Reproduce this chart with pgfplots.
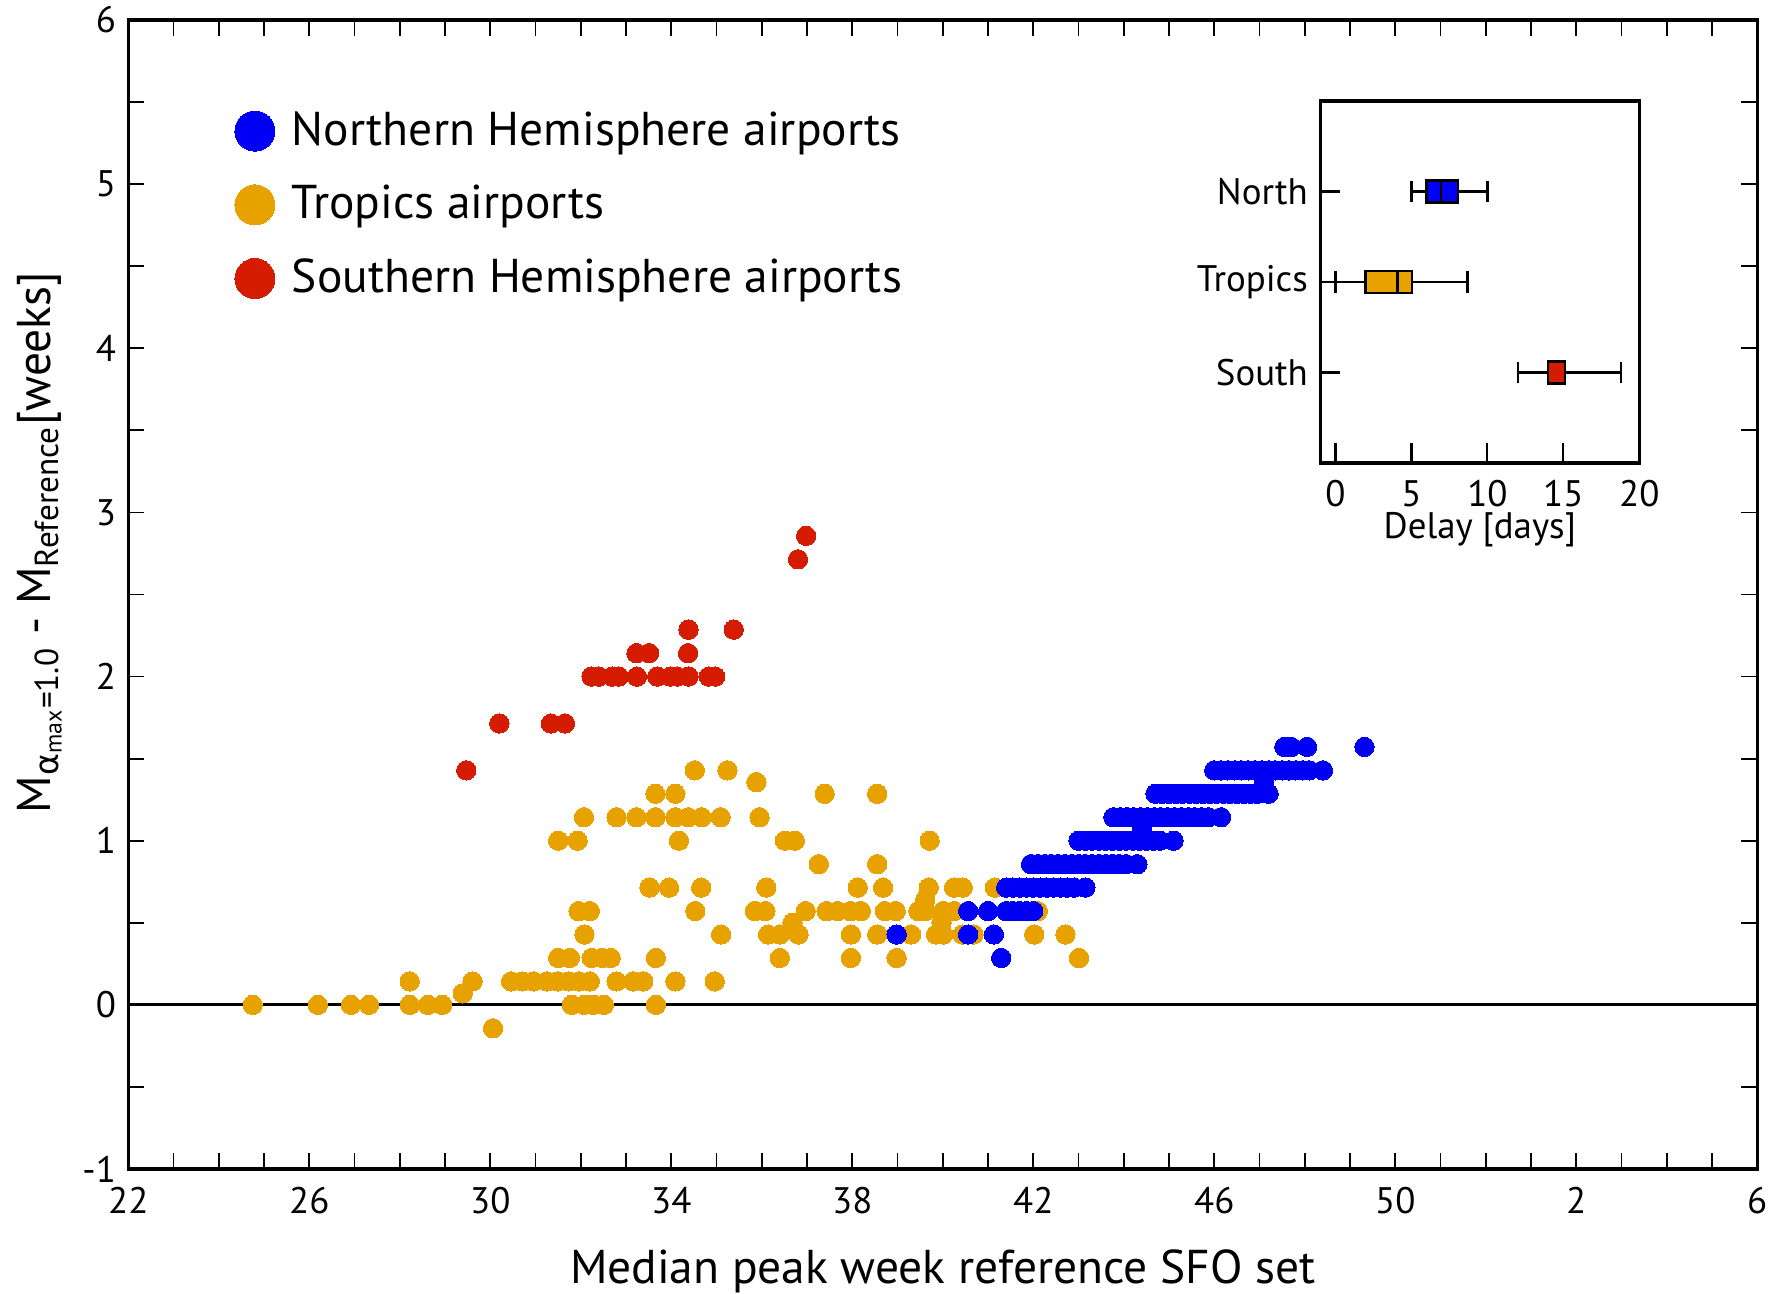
\documentclass[border=0pt]{standalone}
\usepackage{pgfplots}
\pgfplotsset{compat=1.18}
\usepgfplotslibrary{statistics}
\usepackage{amsmath}
\usepackage{fontspec}
\setmainfont{PT Sans}
\newfontfamily\grk{DejaVu Sans}
\definecolor{nblue}{RGB}{0,0,245}
\definecolor{torange}{RGB}{232,162,0}
\definecolor{sred}{RGB}{214,28,0}
\pgfplotsset{
  ptO/.style={only marks, mark=*, mark size=2.75pt, color=torange, mark options={draw=torange, fill=torange, line width=0pt}},
  ptN/.style={only marks, mark=*, mark size=2.75pt, color=nblue, mark options={draw=nblue, fill=nblue, line width=0pt}},
  ptS/.style={only marks, mark=*, mark size=2.75pt, color=sred, mark options={draw=sred, fill=sred, line width=0pt}},
}
\begin{document}
\begin{tikzpicture}
\begin{axis}[
  at={(0,0)}, anchor=south west,
  width=162.9mm, height=114.9mm, scale only axis,
  xmin=22, xmax=58, ymin=-1, ymax=6,
  xtick={22,26,...,58}, xticklabels={22,26,30,34,38,42,46,50,2,6},
  minor x tick num=3,
  ytick={-1,0,...,6}, minor y tick num=1,
  tick align=inside, major tick length=1.6mm, minor tick length=1.6mm,
  tick style={black, line width=0.5pt},
  axis line style={line width=0.9pt},
  every tick label/.append style={font=\fontsize{10.5}{12}\selectfont},
  xticklabel style={yshift=-0.6mm},
  /pgf/number format/assume math mode=true,
  xlabel={Median peak week reference SFO set},
  ylabel={M$_{\text{\grk α}_{\text{max}}\text{=1.0}}$ - M$_{\text{Reference}}$[weeks]},
  label style={font=\fontsize{13.5}{16}\selectfont},
  xlabel style={at={(axis description cs:0.5,-0.089)}, anchor=center},
  ylabel style={at={(axis description cs:-0.0545,0.545)}, anchor=center},
  legend style={draw=none, fill=none, at={(axis description cs:0.065,0.927)}, anchor=north west,
    font=\fontsize{13.5}{16}\selectfont, inner sep=0pt, row sep=5.9pt,
    /tikz/every odd column/.append style={column sep=1mm}},
  legend cell align=left,
  legend image post style={mark size=5.7pt},
]
\addlegendimage{ptN}
\addlegendentry{Northern Hemisphere airports}
\addlegendimage{ptO}
\addlegendentry{Tropics airports}
\addlegendimage{ptS}
\addlegendentry{Southern Hemisphere airports}

\addplot[black, line width=0.8pt, forget plot] coordinates {(22,0) (58,0)};

% Tropics
\addplot[ptO, forget plot] coordinates {
(24.75,0)(26.19,0)(26.92,0)(27.32,0)(28.22,0)(28.62,0)(28.94,0)(31.80,0)(32.08,0)(32.28,0)(32.51,0)(33.66,0)
(30.06,-0.142857)(29.39,0.07)
(28.22,0.142857)(29.61,0.142857)(30.46,0.142857)(30.71,0.142857)(30.96,0.142857)(31.25,0.142857)(31.49,0.142857)(31.73,0.142857)(31.96,0.142857)(32.20,0.142857)(32.79,0.142857)(33.16,0.142857)(33.38,0.142857)(34.09,0.142857)(34.96,0.142857)
(31.50,0.285714)(31.76,0.285714)(32.24,0.285714)(32.47,0.285714)(32.66,0.285714)(33.66,0.285714)(36.40,0.285714)(37.97,0.285714)(38.98,0.285714)(43.01,0.285714)
(32.08,0.428571)(35.10,0.428571)(36.14,0.428571)(36.40,0.428571)(36.81,0.428571)(37.97,0.428571)(38.55,0.428571)(39.30,0.428571)(39.85,0.428571)(40.01,0.428571)(40.44,0.428571)(40.68,0.428571)(42.02,0.428571)(42.71,0.428571)
(36.68,0.5)(39.97,0.5)
(31.95,0.571429)(32.20,0.571429)(34.53,0.571429)(35.85,0.571429)(36.08,0.571429)(36.97,0.571429)(37.43,0.571429)(37.68,0.571429)(37.96,0.571429)(38.19,0.571429)(38.72,0.571429)(38.96,0.571429)(39.46,0.571429)(39.61,0.571429)(40.01,0.571429)(40.25,0.571429)(42.10,0.571429)
(39.61,0.64)
(33.52,0.714286)(33.95,0.714286)(34.66,0.714286)(36.10,0.714286)(38.12,0.714286)(38.68,0.714286)(39.69,0.714286)(40.25,0.714286)(40.44,0.714286)(41.15,0.714286)
(37.26,0.857143)(38.55,0.857143)
(31.50,1)(31.93,1)(34.17,1)(36.51,1)(36.73,1)(39.71,1)
(32.07,1.142857)(32.79,1.142857)(33.23,1.142857)(33.65,1.142857)(34.09,1.142857)(34.37,1.142857)(34.67,1.142857)(35.09,1.142857)(35.95,1.142857)
(33.65,1.285714)(34.09,1.285714)(37.39,1.285714)(38.55,1.285714)
(35.88,1.357)
(34.52,1.428571)(35.24,1.428571)
};

% North
\addplot[ptN, forget plot] coordinates {
(41.29,0.285714)
(38.98,0.428571)(40.56,0.428571)(41.13,0.428571)
(40.56,0.571429)(41.00,0.571429)(41.40,0.571429)(41.55,0.571429)(41.70,0.571429)(41.85,0.571429)(42.00,0.571429)
(41.40,0.714286)(41.55,0.714286)(41.70,0.714286)(41.85,0.714286)(42.00,0.714286)(42.15,0.714286)(42.30,0.714286)(42.45,0.714286)(42.60,0.714286)(42.75,0.714286)(42.90,0.714286)(43.15,0.714286)
(41.95,0.857143)(42.10,0.857143)(42.25,0.857143)(42.40,0.857143)(42.55,0.857143)(42.70,0.857143)(42.85,0.857143)(43.00,0.857143)(43.15,0.857143)(43.30,0.857143)(43.45,0.857143)(43.60,0.857143)(43.75,0.857143)(43.90,0.857143)(44.05,0.857143)(44.30,0.857143)
(43.00,1)(43.15,1)(43.30,1)(43.45,1)(43.60,1)(43.75,1)(43.90,1)(44.05,1)(44.20,1)(44.35,1)(44.50,1)(44.65,1)(44.80,1)(45.10,1)
(44.40,1.071429)
(43.77,1.142857)(43.92,1.142857)(44.07,1.142857)(44.22,1.142857)(44.37,1.142857)(44.52,1.142857)(44.67,1.142857)(44.82,1.142857)(44.97,1.142857)(45.12,1.142857)(45.27,1.142857)(45.42,1.142857)(45.57,1.142857)(45.72,1.142857)(45.87,1.142857)(46.15,1.142857)
(44.70,1.285714)(44.85,1.285714)(45.00,1.285714)(45.15,1.285714)(45.30,1.285714)(45.45,1.285714)(45.60,1.285714)(45.75,1.285714)(45.90,1.285714)(46.05,1.285714)(46.20,1.285714)(46.35,1.285714)(46.50,1.285714)(46.65,1.285714)(46.80,1.285714)(46.95,1.285714)(47.20,1.285714)
(47.10,1.357143)
(46.00,1.428571)(46.15,1.428571)(46.30,1.428571)(46.45,1.428571)(46.60,1.428571)(46.75,1.428571)(46.90,1.428571)(47.05,1.428571)(47.20,1.428571)(47.35,1.428571)(47.50,1.428571)(47.65,1.428571)(47.80,1.428571)(47.95,1.428571)(48.10,1.428571)(48.40,1.428571)
(47.55,1.571429)(47.70,1.571429)(48.05,1.571429)(49.32,1.571429)
};

% South
\addplot[ptS, forget plot] coordinates {
(29.47,1.428571)
(30.20,1.714286)(31.34,1.714286)(31.65,1.714286)
(32.24,2)(32.40,2)(32.69,2)(32.84,2)(33.24,2)(33.69,2)(33.98,2)(34.13,2)(34.38,2)(34.83,2)(34.97,2)
(33.23,2.142857)(33.51,2.142857)(34.37,2.142857)
(34.38,2.285714)(35.38,2.285714)
(36.80,2.714286)(36.98,2.857143)
};
\end{axis}

\begin{axis}[
  at={(119.2mm,70.6mm)}, anchor=south west,
  width=31.9mm, height=36.2mm, scale only axis,
  xmin=-1, xmax=20, ymin=0, ymax=4,
  xtick={0,5,...,20}, ytick={1,2,3}, yticklabels={South,Tropics,North},
  tick pos=left, tick align=inside, major tick length=2mm,
  axis line style={line width=0.9pt}, tick style={line width=0.6pt, black},
  every tick label/.append style={font=\fontsize{10.5}{12}\selectfont},
  xticklabel style={yshift=-0.5mm},
  /pgf/number format/assume math mode=true,
  xlabel={Delay [days]},
  label style={font=\fontsize{10.5}{12}\selectfont},
  xlabel style={at={(axis description cs:0.5,-0.185)}, anchor=center},
  boxplot/draw direction=x,
]
\addplot[draw=black, line width=0.7pt, fill=nblue, boxplot prepared={lower whisker=5, lower quartile=6, median=6.95, upper quartile=8.06, upper whisker=10, draw position=3, box extend=0.24, whisker extend=0.24}] coordinates {};
\addplot[draw=black, line width=0.7pt, fill=torange, boxplot prepared={lower whisker=0, lower quartile=1.98, median=4.07, upper quartile=5.02, upper whisker=8.7, draw position=2, box extend=0.24, whisker extend=0.24}] coordinates {};
\addplot[draw=black, line width=0.7pt, fill=sred, boxplot prepared={lower whisker=12, lower quartile=14, median=14, upper quartile=15.1, upper whisker=18.8, draw position=1, box extend=0.24, whisker extend=0.24}] coordinates {};
\end{axis}
\pgfresetboundingbox
\path[use as bounding box] (-12.83mm,-12.5mm) rectangle (164.37mm,116.9mm);
\end{tikzpicture}
\end{document}
